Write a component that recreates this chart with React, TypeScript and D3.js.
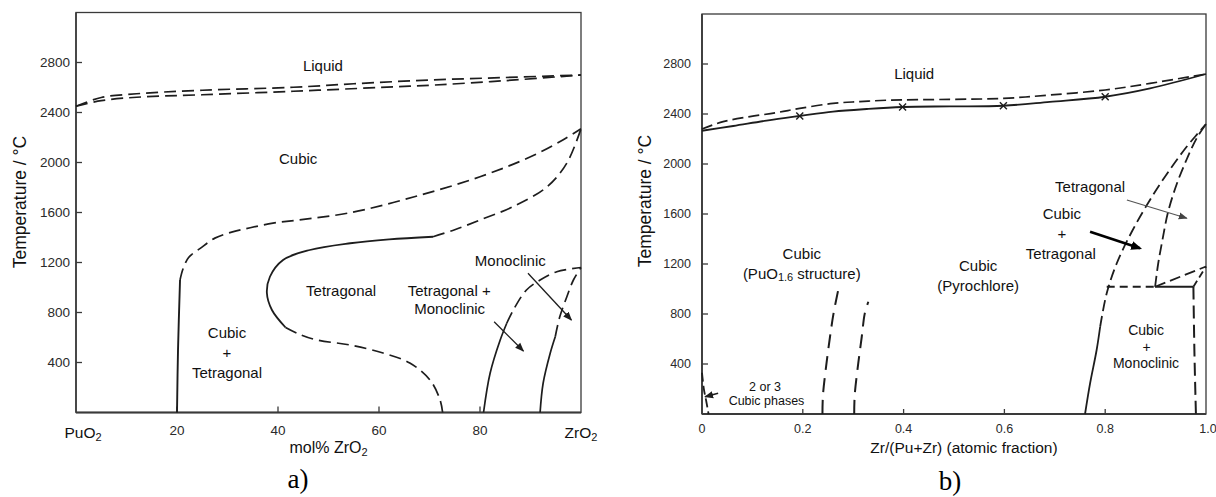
import React from 'react';
import * as d3 from 'd3';

type P = [number, number];

// ---------------- Panel a (PuO2 – ZrO2, mol% ZrO2) ----------------
const aTempTicks = [400, 800, 1200, 1600, 2000, 2400, 2800];
const aMolTicks = [20, 40, 60, 80];
const aEndMol = [0, 100];
const aEndLabels = ['PuO', 'ZrO'];

const aLiquidus: P[] = [[0, 2450], [5, 2520], [12, 2550], [25, 2578], [43, 2602], [55, 2630], [70, 2660], [85, 2680], [100, 2700]];
const aSolidus: P[] = [[0, 2450], [5, 2495], [12, 2522], [25, 2542], [43, 2570], [60, 2600], [71, 2620], [85, 2655], [100, 2700]];
const aCubicVertical: P[] = [[20, 0], [20.2, 500], [20.6, 1060]];
const aCubicBoundary: P[] = [[20.6, 1060], [21.2, 1150], [22.3, 1240], [24.6, 1313], [27.5, 1395], [31, 1445], [34.5, 1478], [39, 1515], [44, 1540], [54, 1596], [67, 1726], [80, 1886], [90, 2046], [96.4, 2180], [100, 2270]];
const aTetNose: P[] = [[70.7, 1406], [62, 1385], [54.3, 1354], [46.3, 1300], [41, 1220], [38.4, 1086], [37.8, 956], [38.8, 820], [41.5, 680]];
const aTetLower: P[] = [[41.5, 680], [44, 630], [47.7, 580], [54.3, 540], [60.8, 476], [66.1, 396], [70.1, 260], [72.1, 100], [72.6, 0]];
const aTetUpper: P[] = [[70.7, 1406], [75, 1462], [80, 1540], [86.5, 1646], [93.3, 1806], [97.2, 1996], [100, 2270]];
const aMono1Solid: P[] = [[80.7, 0], [82, 314], [84, 580], [85.3, 714]];
const aMono1Dash: P[] = [[85.3, 714], [86.6, 820], [89.2, 980], [91.9, 1060], [95.2, 1126], [100, 1160]];
const aMono2Solid: P[] = [[91.9, 0], [92.5, 234], [93.9, 474], [94.9, 606]];
const aMono2Dash: P[] = [[94.9, 606], [95.8, 766], [97.2, 926], [98.5, 1060], [100, 1160]];
const aArrows: [P, P][] = [
  [[89.5, 1114], [98.1, 740]],
  [[82.8, 726], [88.6, 492]],
];
const aLabelTexts = ['Liquid', 'Cubic', 'Tetragonal', 'Cubic', '+', 'Tetragonal', 'Tetragonal +', 'Monoclinic', 'Monoclinic'];
const aLabelPos: P[] = [[48.9, 2780], [44, 2036], [52.5, 980], [29.9, 644], [29.9, 484], [29.9, 324], [73.9, 980], [74, 836], [86, 1220]];

// ---------------- Panel b (Zr/(Pu+Zr) atomic fraction) ----------------
const bTempTicks = [400, 800, 1200, 1600, 2000, 2400, 2800];
const bFracTicks = [0, 0.2, 0.4, 0.6, 0.8, 1.0];
const bFracTickLabels = ['0', '0.2', '0.4', '0.6', '0.8', '1.0'];

const bLiquidus: P[] = [[0, 2280], [0.042, 2339], [0.095, 2379], [0.148, 2411], [0.194, 2445], [0.26, 2485], [0.313, 2499], [0.366, 2510], [0.492, 2517], [0.598, 2525], [0.69, 2552], [0.8, 2592], [0.889, 2645], [1, 2720]];
const bSolidus: P[] = [[0, 2266], [0.062, 2304], [0.128, 2347], [0.194, 2384], [0.26, 2419], [0.327, 2440], [0.398, 2456], [0.492, 2461], [0.598, 2466], [0.69, 2497], [0.8, 2538], [0.889, 2605], [1, 2720]];
const bSolidusMarks: P[] = [[0.194, 2384], [0.398, 2456], [0.598, 2466], [0.8, 2538]];
const bPyroSolid: P[] = [[0.76, 0], [0.77, 245], [0.783, 512], [0.79, 698]];
const bPyroDash: P[] = [[0.79, 698], [0.803, 966], [0.823, 1206], [0.853, 1460], [0.893, 1740], [0.93, 1965], [0.962, 2140], [0.985, 2250], [1.0, 2320]];
const bTetDash: P[] = [[0.899, 1018], [0.905, 1200], [0.913, 1380], [0.925, 1620], [0.942, 1840], [0.962, 2040], [0.982, 2210], [1.0, 2320]];
const bHorizDash: P[] = [[0.803, 1018], [0.899, 1018]];
const bHorizSolid: P[] = [[0.899, 1018], [0.975, 1018]];
const bRightVertical: P[] = [[0.975, 1018], [0.977, 500], [0.98, 0]];
const bDiagonal1: P[] = [[0.899, 1018], [1.0, 1180]];
const bDiagonal2: P[] = [[0.975, 1018], [1.0, 1180]];
const bPuLine1: P[] = [[0.239, 0], [0.24, 150], [0.247, 405], [0.254, 618], [0.261, 805], [0.271, 1006]];
const bPuLine2: P[] = [[0.302, 0], [0.303, 150], [0.31, 405], [0.317, 618], [0.323, 805], [0.33, 898]];
const bNearZero: P[] = [[0, 330], [0.004, 192], [0.008, 112], [0.013, 0]];
const bArrowsThin: [P, P][] = [[[0.032, 166], [0.006, 138]]];
const bArrowsGray: [P, P][] = [[[0.843, 1712], [0.962, 1566]]];
const bArrowsThick: [P, P][] = [[[0.77, 1458], [0.869, 1326]]];
const bLabelTexts = ['Liquid', 'Cubic', 'Cubic', '(Pyrochlore)', 'Tetragonal', 'Cubic', '+', 'Tetragonal', 'Cubic', '+', 'Monoclinic'];
const bLabelPos: P[] = [[0.421, 2728], [0.198, 1286], [0.548, 1192], [0.548, 1032], [0.77, 1818], [0.714, 1606], [0.714, 1446], [0.712, 1286], [0.881, 672], [0.882, 538], [0.881, 406]];
const bSmallTexts = ['2 or 3', 'Cubic phases'];
const bSmallPos: P[] = [[0.125, 218], [0.128, 106]];
const bPuOLabelPos: P = [0.198, 1126];

const SANS = "'Liberation Sans', Arial, Helvetica, sans-serif";
const SERIF = "'Liberation Serif', 'Times New Roman', serif";
const INK = '#1d1d1d';
const AXIS = '#3a3a3a';

type Sc = d3.ScaleLinear<number, number>;

function Curve({ pts, x, y, dash, w = 1.7, color = INK, linear = false }: { pts: P[]; x: Sc; y: Sc; dash?: string; w?: number; color?: string; linear?: boolean }) {
  const gen = d3.line<P>().x(d => x(d[0])).y(d => y(d[1])).curve(linear ? d3.curveLinear : d3.curveCatmullRom.alpha(0.5));
  return <path d={gen(pts) || ''} fill="none" stroke={color} strokeWidth={w} strokeDasharray={dash} strokeLinecap="butt" />;
}

function Arrow({ a, x, y, marker, w, color }: { a: [P, P]; x: Sc; y: Sc; marker: string; w: number; color: string }) {
  return <line x1={x(a[0][0])} y1={y(a[0][1])} x2={x(a[1][0])} y2={y(a[1][1])} stroke={color} strokeWidth={w} markerEnd={`url(#${marker})`} />;
}

export default function App() {
  // panel a scales
  const xA = d3.scaleLinear().domain([0, 100]).range([76, 581]);
  const yA = d3.scaleLinear().domain([0, 3200]).range([412.5, 12.5]);
  // panel b scales
  const xB = d3.scaleLinear().domain([0, 1]).range([702, 1206]);
  const yB = d3.scaleLinear().domain([0, 3200]).range([414, 14]);

  const dashA = '12,6';
  const dashB = '11,5';

  return (
    <svg width={1216} height={497} style={{ position: 'absolute', left: 0, top: 0, background: '#fff' }} fontFamily={SANS}>
      <defs>
        <marker id="ahBlack" viewBox="0 0 10 10" refX="9" refY="5" markerWidth="9" markerHeight="9" orient="auto" markerUnits="userSpaceOnUse">
          <path d="M0,1 L10,5 L0,9 z" fill={INK} />
        </marker>
        <marker id="ahGray" viewBox="0 0 10 10" refX="9" refY="5" markerWidth="9" markerHeight="9" orient="auto" markerUnits="userSpaceOnUse">
          <path d="M0,1 L10,5 L0,9 z" fill="#444" />
        </marker>
        <marker id="ahThick" viewBox="0 0 10 10" refX="8" refY="5" markerWidth="11" markerHeight="11" orient="auto" markerUnits="userSpaceOnUse">
          <path d="M0,1 L10,5 L0,9 z" fill="#000" />
        </marker>
      </defs>
      <rect x={0} y={0} width={1216} height={497} fill="#fff" />

      {/* ================= PANEL A ================= */}
      <g>
        <rect x={xA(0)} y={yA(3200)} width={xA(100) - xA(0)} height={yA(0) - yA(3200)} fill="none" stroke={AXIS} strokeWidth={1.3} />
        <line x1={xA(0)} x2={xA(100)} y1={yA(0)} y2={yA(0)} stroke={AXIS} strokeWidth={2} />
        <line x1={xA(0)} x2={xA(0)} y1={yA(0)} y2={yA(3200)} stroke={AXIS} strokeWidth={1.6} />
        {aTempTicks.map(t => (
          <g key={'ay' + t}>
            <line x1={xA(0)} x2={xA(0) + 6} y1={yA(t)} y2={yA(t)} stroke={AXIS} strokeWidth={1.3} />
            <text x={xA(0) - 6} y={yA(t)} textAnchor="end" dominantBaseline="central" fontSize={13.5} fill="#2a2a2a">{t}</text>
          </g>
        ))}
        {aMolTicks.map(t => (
          <g key={'ax' + t}>
            <line x1={xA(t)} x2={xA(t)} y1={yA(0)} y2={yA(0) - 6} stroke={AXIS} strokeWidth={1.3} />
            <text x={xA(t)} y={yA(0) + 18} textAnchor="middle" dominantBaseline="central" fontSize={13.5} fill="#2a2a2a">{t}</text>
          </g>
        ))}
        {aEndMol.map((m, i) => (
          <text key={'ae' + i} x={xA(m) + (i === 0 ? 7 : 0)} y={yA(0) + 20} textAnchor="middle" dominantBaseline="central" fontSize={15.5} fill="#111">
            {aEndLabels[i]}<tspan fontSize={11} dy={4}>2</tspan>
          </text>
        ))}
        <text x={(xA(0) + xA(100)) / 2} y={yA(0) + 35} textAnchor="middle" dominantBaseline="central" fontSize={16} fill="#111">
          mol% ZrO<tspan fontSize={11} dy={4}>2</tspan>
        </text>
        <text transform={`translate(20,202) rotate(-90)`} textAnchor="middle" dominantBaseline="central" fontSize={17.5} fill="#111">Temperature / °C</text>

        <Curve pts={aLiquidus} x={xA} y={yA} dash={dashA} />
        <Curve pts={aSolidus} x={xA} y={yA} dash={dashA} />
        <Curve pts={aCubicVertical} x={xA} y={yA} w={1.9} />
        <Curve pts={aCubicBoundary} x={xA} y={yA} dash={dashA} />
        <Curve pts={aTetNose} x={xA} y={yA} w={1.8} />
        <Curve pts={aTetLower} x={xA} y={yA} dash={dashA} />
        <Curve pts={aTetUpper} x={xA} y={yA} dash={dashA} />
        <Curve pts={aMono1Solid} x={xA} y={yA} w={1.7} />
        <Curve pts={aMono1Dash} x={xA} y={yA} dash={dashA} />
        <Curve pts={aMono2Solid} x={xA} y={yA} w={1.7} />
        <Curve pts={aMono2Dash} x={xA} y={yA} dash={dashA} />
        {aArrows.map((a, i) => <Arrow key={'aa' + i} a={a} x={xA} y={yA} marker="ahBlack" w={1.3} color={INK} />)}
        {aLabelTexts.map((t, i) => (
          <text key={'al' + i} x={xA(aLabelPos[i][0])} y={yA(aLabelPos[i][1])} textAnchor="middle" dominantBaseline="central" fontSize={15} fill="#111">{t}</text>
        ))}
        <text x={298} y={488} textAnchor="middle" fontFamily={SERIF} fontSize={27} fill="#000">a)</text>
      </g>

      {/* ================= PANEL B ================= */}
      <g>
        <rect x={xB(0)} y={yB(3200)} width={xB(1) - xB(0)} height={yB(0) - yB(3200)} fill="none" stroke={AXIS} strokeWidth={1.3} />
        <line x1={xB(0)} x2={xB(1)} y1={yB(0)} y2={yB(0)} stroke={AXIS} strokeWidth={2} />
        <line x1={xB(0)} x2={xB(0)} y1={yB(0)} y2={yB(3200)} stroke={AXIS} strokeWidth={1.8} />
        {bTempTicks.map(t => (
          <g key={'by' + t}>
            <line x1={xB(0)} x2={xB(0) + 6} y1={yB(t)} y2={yB(t)} stroke={AXIS} strokeWidth={1.3} />
            <text x={xB(0) - 11} y={yB(t)} textAnchor="end" dominantBaseline="central" fontSize={12.5} fill="#2a2a2a">{t}</text>
          </g>
        ))}
        {bFracTicks.map((t, i) => (
          <g key={'bx' + t}>
            {i > 0 && i < bFracTicks.length - 1 && (
              <line x1={xB(t)} x2={xB(t)} y1={yB(0)} y2={yB(0) - 5} stroke={AXIS} strokeWidth={1.3} />
            )}
            <text x={xB(t) + (i === bFracTicks.length - 1 ? 2 : 0)} y={yB(0) + 15} textAnchor="middle" dominantBaseline="central" fontSize={12.5} fill="#2a2a2a">{bFracTickLabels[i]}</text>
          </g>
        ))}
        <text x={964} y={yB(0) + 33} textAnchor="middle" dominantBaseline="central" fontSize={15.5} fill="#111">Zr/(Pu+Zr) (atomic fraction)</text>
        <text transform={`translate(645,201) rotate(-90)`} textAnchor="middle" dominantBaseline="central" fontSize={17.5} fill="#111">Temperature / °C</text>

        <Curve pts={bLiquidus} x={xB} y={yB} dash={dashB} />
        <Curve pts={bSolidus} x={xB} y={yB} w={1.8} />
        {bSolidusMarks.map((m, i) => {
          const cx = xB(m[0]);
          const cy = yB(m[1]);
          return (
            <g key={'bm' + i} stroke={INK} strokeWidth={1.4}>
              <line x1={cx - 3.5} y1={cy - 3.5} x2={cx + 3.5} y2={cy + 3.5} />
              <line x1={cx - 3.5} y1={cy + 3.5} x2={cx + 3.5} y2={cy - 3.5} />
            </g>
          );
        })}
        <Curve pts={bPyroSolid} x={xB} y={yB} w={1.8} />
        <Curve pts={bPyroDash} x={xB} y={yB} dash={dashB} w={1.8} />
        <Curve pts={bTetDash} x={xB} y={yB} dash={dashB} w={1.8} />
        <Curve pts={bHorizDash} x={xB} y={yB} dash="8,5" w={1.8} linear />
        <Curve pts={bHorizSolid} x={xB} y={yB} w={1.8} linear />
        <Curve pts={bRightVertical} x={xB} y={yB} dash="13,6" w={2} />
        <Curve pts={bDiagonal1} x={xB} y={yB} dash={dashB} w={1.8} linear />
        <Curve pts={bDiagonal2} x={xB} y={yB} dash="7,4" w={1.8} linear />
        <Curve pts={bPuLine1} x={xB} y={yB} dash="14,8" w={2} />
        <Curve pts={bPuLine2} x={xB} y={yB} dash="14,8" w={2} />
        <Curve pts={bNearZero} x={xB} y={yB} dash="9,4" w={1.8} />
        {bArrowsThin.map((a, i) => <Arrow key={'bt' + i} a={a} x={xB} y={yB} marker="ahBlack" w={1.4} color={INK} />)}
        {bArrowsGray.map((a, i) => <Arrow key={'bg' + i} a={a} x={xB} y={yB} marker="ahGray" w={1.2} color="#555" />)}
        {bArrowsThick.map((a, i) => <Arrow key={'bk' + i} a={a} x={xB} y={yB} marker="ahThick" w={2.6} color="#000" />)}
        {bLabelTexts.map((t, i) => (
          <text key={'bl' + i} x={xB(bLabelPos[i][0])} y={yB(bLabelPos[i][1])} textAnchor="middle" dominantBaseline="central" fontSize={i >= 8 ? 14 : 15} fill="#111">{t}</text>
        ))}
        <text x={xB(bPuOLabelPos[0])} y={yB(bPuOLabelPos[1])} textAnchor="middle" dominantBaseline="central" fontSize={15} fill="#111">
          (PuO<tspan fontSize={11} dy={4}>1.6</tspan><tspan dy={-4}> structure)</tspan>
        </text>
        {bSmallTexts.map((t, i) => (
          <text key={'bs' + i} x={xB(bSmallPos[i][0])} y={yB(bSmallPos[i][1])} textAnchor="middle" dominantBaseline="central" fontSize={12.5} fill="#111">{t}</text>
        ))}
        <text x={950} y={490} textAnchor="middle" fontFamily={SERIF} fontSize={27} fill="#000">b)</text>
      </g>
    </svg>
  );
}
